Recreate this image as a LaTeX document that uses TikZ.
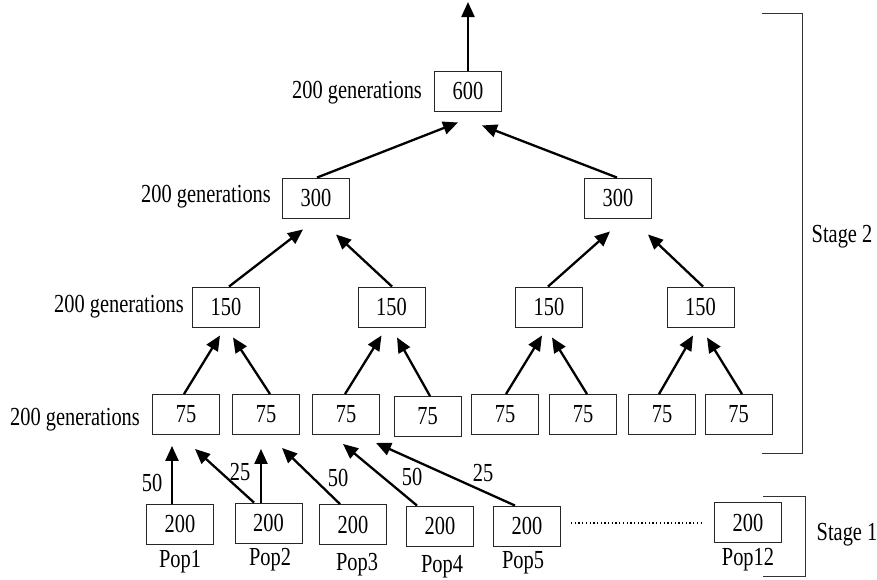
\documentclass[tikz,border=0pt]{standalone}
\usepackage{fontspec}
\setmainfont{Liberation Serif}[FakeStretch=0.785]
\usetikzlibrary{arrows.meta}
\tikzset{
  box/.style={draw=black!85, line width=0.9pt, minimum width=67pt, minimum height=40pt, inner sep=0pt, font=\fontsize{26}{30}\selectfont},
  lbl/.style={inner sep=0pt, font=\fontsize{26}{30}\selectfont},
  arr/.style={line width=2.3pt, -{Triangle[length=15pt,width=13pt]}},
  brk/.style={line width=1pt, draw=black!80},
}
\begin{document}
\begin{tikzpicture}[x=1pt,y=-1pt]
\useasboundingbox (0,0) rectangle (877,579);
% top
\node[box] (t600) at (468,91) {600};
\coordinate (top) at (468,2);
% 300 row
\node[box] (a1) at (316,198) {300};
\node[box] (a2) at (618,198) {300};
% 150 row
\node[box] (b1) at (226,307) {150};
\node[box] (b2) at (391.5,307) {150};
\node[box] (b3) at (549,307) {150};
\node[box] (b4) at (700.5,307) {150};
% 75 row
\node[box] (c1) at (186,414.5) {75};
\node[box] (c2) at (266,414.5) {75};
\node[box] (c3) at (346,414.5) {75};
\node[box] (c4) at (427.5,416.5) {75};
\node[box] (c5) at (505,414.5) {75};
\node[box] (c6) at (583,414.5) {75};
\node[box] (c7) at (662,414.5) {75};
\node[box] (c8) at (738.5,414.5) {75};
% 200 row
\node[box] (p1) at (180,524) {200};
\node[box] (p2) at (268.5,523) {200};
\node[box] (p3) at (353,524.5) {200};
\node[box] (p4) at (440,526) {200};
\node[box] (p5) at (527,526) {200};
\node[box] (p12) at (748,522.5) {200};
% pop labels
\node[lbl] (l1) at (180,562) {Pop1};
\node[lbl] (l2) at (270,560) {Pop2};
\node[lbl] (l3) at (357,565) {Pop3};
\node[lbl] (l4) at (442,567) {Pop4};
\node[lbl] (l5) at (523,563) {Pop5};
\node[lbl] (l12) at (748,560) {Pop12};
% generation labels
\node[lbl] (g1) at (357,93) {200 generations};
\node[lbl] (g2) at (206,197) {200 generations};
\node[lbl] (g3) at (119,307) {200 generations};
\node[lbl] (g4) at (75,420) {200 generations};
% arrows to top
\draw[arr] (t600.north) -- (top);
\draw[arr] ([xshift=1pt]a1.north) -- ([xshift=-10pt,yshift=-11pt]t600.south);
\draw[arr] ([xshift=-1pt]a2.north) -- ([xshift=14pt,yshift=-14pt]t600.south);
\draw[arr] ([xshift=3pt]b1.north) -- ([xshift=-13pt,yshift=-11pt]a1.south);
\draw[arr] ([xshift=0.5pt]b2.north) -- ([xshift=20pt,yshift=-16pt]a1.south);
\draw[arr] ([xshift=-1pt]b3.north) -- ([xshift=-8pt,yshift=-13pt]a2.south);
\draw[arr] ([xshift=2.5pt]b4.north) -- ([xshift=30pt,yshift=-16pt]a2.south);
\draw[arr] ([xshift=-2pt]c1.north) -- ([xshift=-6pt,yshift=-8pt]b1.south);
\draw[arr] ([xshift=4pt]c2.north) -- ([xshift=7pt,yshift=-10pt]b1.south);
\draw[arr] ([xshift=-1pt]c3.north) -- ([xshift=-10pt,yshift=-8pt]b2.south);
\draw[arr] ([xshift=2.5pt]c4.north) -- ([xshift=5.5pt,yshift=-10pt]b2.south);
\draw[arr] ([xshift=1pt]c5.north) -- ([xshift=-7pt,yshift=-8pt]b3.south);
\draw[arr] ([xshift=4pt]c6.north) -- ([xshift=3pt,yshift=-10pt]b3.south);
\draw[arr] ([xshift=-3pt]c7.north) -- ([xshift=-7.5pt,yshift=-8pt]b4.south);
\draw[arr] ([xshift=3.5pt]c8.north) -- ([xshift=6.5pt,yshift=-10pt]b4.south);
% bottom arrows
\draw[arr] ([xshift=-8pt]p1.north) -- ([xshift=-14pt,yshift=-11pt]c1.south);
\draw[arr] ([xshift=-14.5pt]p2.north) -- ([xshift=9pt,yshift=-14pt]c1.south);
\draw[arr] ([xshift=-7.5pt]p2.north) -- ([xshift=-5pt,yshift=-14pt]c2.south);
\draw[arr] ([xshift=-13pt]p3.north) -- ([xshift=16pt,yshift=-13pt]c2.south);
\draw[arr] ([xshift=-23pt]p4.north) -- ([xshift=-3pt,yshift=-9pt]c3.south);
\draw[arr] ([xshift=-12pt]p5.north) -- ([xshift=30pt,yshift=-8pt]c3.south);
% arrow labels
\node[lbl] (n1) at (152,483) {50};
\node[lbl] (n2) at (240,472) {25};
\node[lbl] (n3) at (338,478) {50};
\node[lbl] (n4) at (412,477) {50};
\node[lbl] (n5) at (483,473) {25};
% dotted line
\coordinate (d1) at (571,523);
\coordinate (d2) at (702,523);
\draw[line width=1.3pt, dash pattern=on 1.3pt off 2.4pt] (d1) -- (d2);
% stage brackets
\draw[brk] (762,13) -- (802,13) -- (802,453) -- (762,453);
\node[lbl] (s2) at (842,237) {Stage 2};
\draw[brk] (763,496) -- (805,496) -- (805,576) -- (763,576);
\node[lbl] (s1) at (847,535) {Stage 1};
\end{tikzpicture}
\end{document}
